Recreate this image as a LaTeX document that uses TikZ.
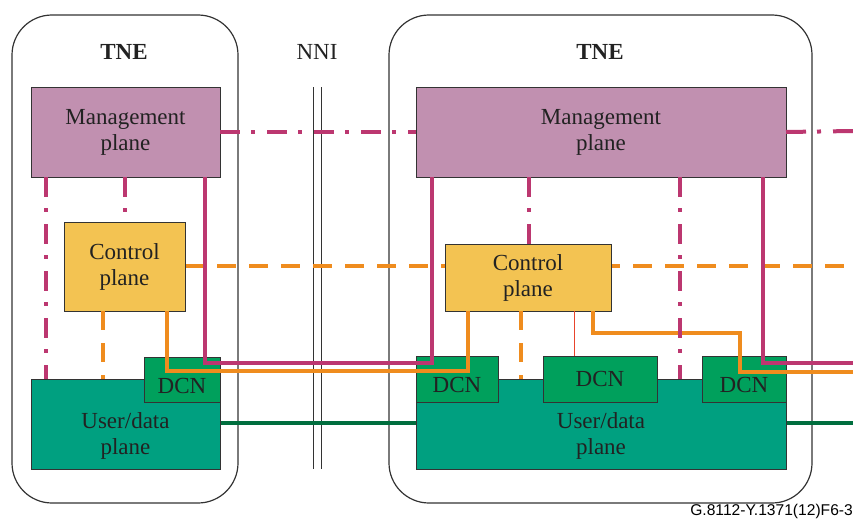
\documentclass[tikz,border=0pt]{standalone}
\usepackage{fontspec}
\setmainfont{Liberation Serif}
\newfontfamily\labelfont{Liberation Sans}
\definecolor{mgfill}{HTML}{C190B0}
\definecolor{cpfill}{HTML}{F3C352}
\definecolor{upfill}{HTML}{00A080}
\definecolor{dcnfill}{HTML}{00A05C}
\definecolor{magline}{HTML}{BC3770}
\definecolor{orline}{HTML}{EF8C1E}
\definecolor{grline}{HTML}{006E3E}
\definecolor{redline}{HTML}{E8442C}
\definecolor{txt}{HTML}{222222}
\definecolor{edge}{HTML}{333333}
\begin{document}
\begin{tikzpicture}[x=1pt,y=-1pt,
  every node/.style={font=\fontsize{23}{26}\selectfont, text=txt},
  planebox/.style={draw=edge, line width=0.9pt, inner sep=0pt, outer sep=0pt, align=center},
  mgbox/.style={planebox, fill=mgfill},
  cpbox/.style={planebox, fill=cpfill},
  upbox/.style={planebox, fill=upfill},
  dcnbox/.style={planebox, fill=dcnfill},
  tnebox/.style={draw=edge, line width=1.2pt, rounded corners=40pt},
  magsolid/.style={draw=magline, line width=4pt},
  magdd/.style={draw=magline, line width=4pt, dash pattern=on 20pt off 11pt on 4pt off 12pt},
  orsolid/.style={draw=orline, line width=3.6pt},
  ordash/.style={draw=orline, line width=3.6pt, dash pattern=on 19pt off 13pt},
  grsolid/.style={draw=grline, line width=4pt},
  nniline/.style={draw=edge, line width=0.9pt}
]
\useasboundingbox (0,0) rectangle (853,519);

% TNE outlines
\draw[tnebox] (12,15) rectangle (238,503);
\draw[tnebox] (389,15) rectangle (812,503);

% titles
\node[font=\fontsize{23}{26}\selectfont\bfseries] (tneL) at (124,52) {TNE};
\node[font=\fontsize{23}{26}\selectfont\bfseries] (tneR) at (600,52) {TNE};
\node (nni) at (317,52) {NNI};

% NNI double line
\coordinate (n1t) at (313.7,87);
\coordinate (n1b) at (313.7,469);
\coordinate (n2t) at (321.3,87);
\coordinate (n2b) at (321.3,469);
\draw[nniline] (n1t) -- (n1b);
\draw[nniline] (n2t) -- (n2b);

% edge coordinates
\coordinate (eM) at (853,131);
\coordinate (eC) at (853,266);
\coordinate (eU) at (853,423);
\coordinate (eMag) at (853,363);
\coordinate (eOr) at (853,372);

% boxes (positions)
\path
  (125.5,132) node[mgbox, minimum width=189pt, minimum height=90pt] (mgL) {Management\\plane}
  (601,132) node[mgbox, minimum width=370pt, minimum height=90pt] (mgR) {Management\\plane};

% horizontal links behind boxes
\draw[magdd] (mgL.east) -- (mgR.west);
\draw[magdd] (mgR.east) -- (eM);
\draw[ordash] (185,266) -- (eC);
\draw[grsolid] (220,423) -- (416,423);
\draw[grsolid] (786,423) -- (eU);

\path
  (124.5,266.5) node[cpbox, minimum width=121pt, minimum height=89pt] (cpL) {Control\\plane}
  (528,277.5) node[cpbox, minimum width=166pt, minimum height=67pt] (cpR) {Control\\plane}
  (125.5,424) node[upbox, minimum width=189pt, minimum height=90pt,
     label={[yshift=-12pt, align=center]center:User/data\\plane}] (upL) {}
  (601,424) node[upbox, minimum width=370pt, minimum height=90pt,
     label={[yshift=-12pt, align=center]center:User/data\\plane}] (upR) {}
  (182,379.5) node[dcnbox, minimum width=76pt, minimum height=45pt,
     label={[yshift=-6.5pt]center:DCN}] (dcnL) {}
  (457,379) node[dcnbox, minimum width=82pt, minimum height=46pt,
     label={[yshift=-6pt]center:DCN}] (dcnA) {}
  (600,379) node[dcnbox, minimum width=114pt, minimum height=46pt] (dcnB) {DCN}
  (744,379) node[dcnbox, minimum width=84pt, minimum height=46pt,
     label={[yshift=-6pt]center:DCN}] (dcnC) {};

% orange connectors
\draw[ordash] (103,0 |- cpL.south) -- (103,0 |- upL.north);
\draw[ordash] (521,0 |- cpR.south) -- (521,0 |- upR.north);
\draw[orsolid] (167,0 |- cpL.south) -- (167,371) -- (468,371) -- (468,0 |- cpR.south);
\draw[orsolid] (593,0 |- cpR.south) -- (593,333) -- (740,333) -- (740,372) -- (eOr);
\draw[draw=redline, line width=0.8pt] (574,0 |- cpR.south) -- (574,0 |- dcnB.north);

% magenta connectors
\draw[magdd] (46,0 |- mgL.south) -- (46,0 |- upL.north);
\draw[magdd] (cpL.north |- mgL.south) -- (cpL.north);
\draw[magdd] (529,0 |- mgR.south) -- (529,0 |- cpR.north);
\draw[magdd] (680,0 |- mgR.south) -- (680,0 |- upR.north);
\draw[magsolid] (205,0 |- mgL.south) -- (205,363) -- (432,363) -- (432,0 |- mgR.south);
\draw[magsolid] (763,0 |- mgR.south) -- (763,363) -- (eMag);

% figure label
\node[font=\labelfont\fontsize{15.6}{17}\selectfont, text=black, anchor=east, inner sep=0pt] (fig) at (853,511) {G.8112-Y.1371(12)F6-3};
\end{tikzpicture}
\end{document}
